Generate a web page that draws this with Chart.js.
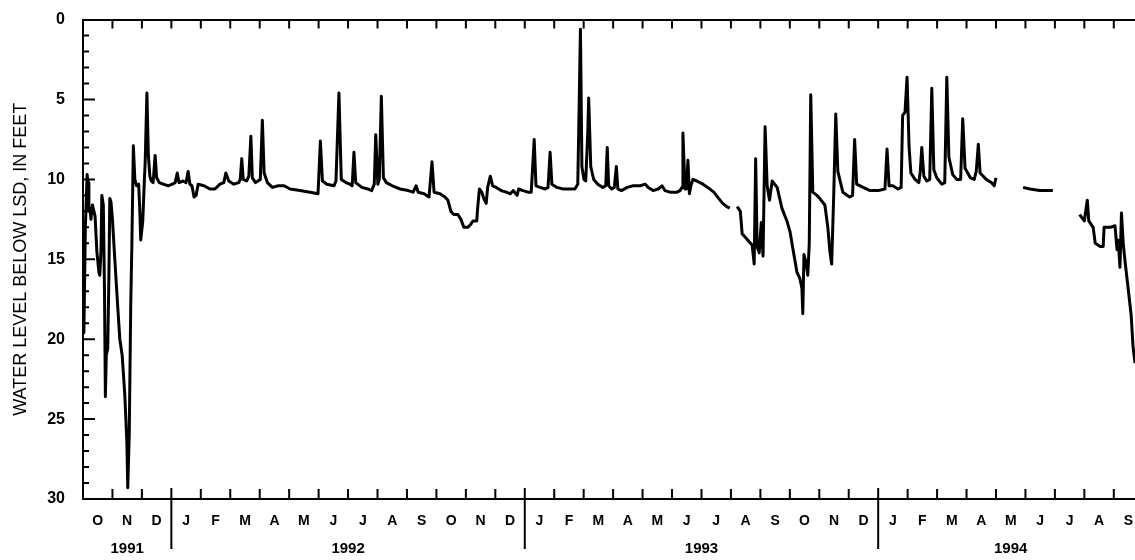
<!DOCTYPE html>
<html>
<head>
<meta charset="utf-8">
<script src="https://cdn.jsdelivr.net/npm/chart.js@4.4.1/dist/chart.umd.min.js"></script>
<style>
  html, body { margin: 0; padding: 0; background: #fff; overflow: hidden; }
</style>
</head>
<body>
<canvas id="hydrograph" width="1135" height="560"></canvas>
<script>
// x = months since 1 Oct 1991, y = water level below land surface (ft); null = no record
const months = [
  0.00, 0.03, 0.08, 0.14, 0.17, 0.20, 0.24, 0.27, 0.32, 0.41, 0.47, 0.54, 0.57, 0.61, 0.64, 0.69,
  0.73, 0.76, 0.79, 0.84, 0.88, 0.91, 0.95, 1.00, 1.08, 1.18, 1.25, 1.33, 1.42, 1.49, 1.52, 1.57,
  1.62, 1.66, 1.71, 1.76, 1.82, 1.89, 1.93, 1.96, 2.03, 2.08, 2.11, 2.17, 2.22, 2.27, 2.32, 2.38,
  2.45, 2.50, 2.59, 2.72, 2.89, 3.03, 3.13, 3.20, 3.26, 3.40, 3.50, 3.57, 3.63, 3.70, 3.77, 3.84,
  3.91, 4.11, 4.31, 4.48, 4.65, 4.78, 4.85, 4.95, 5.12, 5.29, 5.34, 5.39, 5.44, 5.56, 5.63, 5.70,
  5.75, 5.86, 6.02, 6.09, 6.15, 6.26, 6.43, 6.63, 6.83, 7.03, 7.37, 7.71, 7.98, 8.06, 8.13, 8.28,
  8.52, 8.59, 8.69, 8.77, 8.93, 9.06, 9.14, 9.20, 9.26, 9.47, 9.67, 9.80, 9.89, 9.94, 10.01, 10.06,
  10.13, 10.20, 10.30, 10.50, 10.77, 11.04, 11.21, 11.31, 11.38, 11.58, 11.75, 11.85, 11.92, 12.12, 12.29, 12.39,
  12.49, 12.59, 12.73, 12.83, 12.93, 13.07, 13.17, 13.24, 13.37, 13.40, 13.46, 13.54, 13.61, 13.69, 13.74, 13.83,
  13.91, 14.03, 14.20, 14.37, 14.51, 14.61, 14.74, 14.79, 14.94, 15.11, 15.22, 15.32, 15.38, 15.52, 15.69, 15.79,
  15.86, 15.92, 16.09, 16.30, 16.53, 16.70, 16.80, 16.85, 16.89, 16.94, 17.01, 17.07, 17.14, 17.17, 17.24, 17.34,
  17.48, 17.65, 17.75, 17.80, 17.85, 17.95, 18.04, 18.11, 18.16, 18.28, 18.48, 18.68, 18.92, 19.09, 19.19, 19.36,
  19.53, 19.66, 19.76, 19.93, 20.17, 20.27, 20.34, 20.37, 20.44, 20.49, 20.54, 20.59, 20.64, 20.71, 20.84, 21.05,
  21.21, 21.42, 21.59, 21.72, 21.86, 21.96, 22.10, 22.21, 22.32, 22.38, 22.48, 22.62, 22.72, 22.79, 22.84, 22.89,
  22.96, 23.03, 23.09, 23.16, 23.23, 23.31, 23.40, 23.57, 23.73, 23.90, 24.01, 24.11, 24.24, 24.34, 24.41, 24.44,
  24.48, 24.55, 24.61, 24.66, 24.71, 24.78, 24.92, 25.02, 25.19, 25.29, 25.36, 25.42, 25.49, 25.56, 25.63, 25.80,
  26.03, 26.13, 26.20, 26.27, 26.49, 26.73, 27.00, 27.23, 27.30, 27.37, 27.50, 27.67, 27.78, 27.83, 27.91, 27.98,
  28.05, 28.11, 28.25, 28.38, 28.43, 28.48, 28.55, 28.65, 28.75, 28.82, 28.89, 28.99, 29.16, 29.26, 29.33, 29.40,
  29.53, 29.67, 29.80, 29.87, 29.95, 30.13, 30.26, 30.33, 30.40, 30.46, 30.67, 30.84, 30.94, 31.00, 31.45, 31.92,
  32.15, 32.49, 32.93, 33.40, 33.84, 34.00, 34.10, 34.15, 34.30, 34.37, 34.54, 34.64, 34.67, 34.88, 35.04, 35.11,
  35.15, 35.21, 35.26, 35.32, 35.38, 35.48, 35.59, 35.65, 35.72
];
const levels = [
  18.5, 19.6, 13.0, 9.7, 10.2, 12.0, 11.8, 12.5, 11.6, 12.3, 14.5, 15.8, 16.0, 14.5, 11.0, 11.6,
  17.0, 23.6, 21.0, 20.6, 16.0, 11.2, 11.4, 12.5, 15.0, 18.0, 20.0, 21.0, 23.5, 26.5, 29.3, 26.0,
  18.0, 14.0, 7.9, 10.0, 10.4, 10.3, 12.0, 13.8, 12.6, 10.2, 9.0, 4.6, 8.5, 9.8, 10.1, 10.2,
  8.5, 9.9, 10.2, 10.3, 10.4, 10.3, 10.2, 9.6, 10.2, 10.1, 10.2, 9.5, 10.3, 10.4, 11.1, 11.0,
  10.3, 10.4, 10.6, 10.6, 10.3, 10.2, 9.6, 10.1, 10.3, 10.2, 10.0, 8.7, 10.0, 10.1, 9.8, 7.3,
  9.9, 10.2, 10.0, 6.3, 9.6, 10.2, 10.5, 10.4, 10.4, 10.6, 10.7, 10.8, 10.9, 7.6, 10.1, 10.3,
  10.4, 10.1, 4.6, 10.0, 10.2, 10.3, 10.4, 8.3, 10.2, 10.5, 10.6, 10.7, 10.3, 7.2, 10.3, 10.0,
  4.8, 9.9, 10.2, 10.4, 10.6, 10.7, 10.8, 10.4, 10.8, 10.9, 11.1, 8.9, 10.8, 10.9, 11.1, 11.3,
  12.0, 12.2, 12.2, 12.5, 13.0, 13.0, 12.8, 12.6, 12.6, 11.8, 10.6, 10.8, 11.2, 11.5, 10.5, 9.8,
  10.4, 10.5, 10.7, 10.8, 10.9, 10.7, 11.0, 10.6, 10.7, 10.8, 10.8, 7.5, 10.4, 10.5, 10.6, 10.5,
  8.3, 10.3, 10.5, 10.6, 10.6, 10.6, 10.3, 5.0, 0.6, 9.2, 10.0, 10.1, 7.0, 4.9, 9.2, 10.0,
  10.3, 10.5, 10.4, 8.0, 10.4, 10.6, 10.5, 9.2, 10.6, 10.7, 10.5, 10.4, 10.4, 10.3, 10.5, 10.7,
  10.6, 10.4, 10.7, 10.8, 10.8, 10.7, 10.5, 7.1, 10.6, 10.6, 8.8, 10.9, 10.4, 10.0, 10.1, 10.3,
  10.5, 10.8, 11.2, 11.5, 11.7, 11.8, null, 11.7, 12.0, 13.4, 13.6, 13.9, 14.1, 15.3, 8.7, 14.2,
  14.6, 12.7, 14.8, 6.7, 10.4, 11.3, 10.1, 10.5, 11.8, 12.6, 13.3, 14.4, 15.8, 16.2, 16.8, 18.4,
  14.7, 15.2, 16.0, 14.0, 4.7, 10.8, 11.0, 11.2, 11.6, 13.0, 14.5, 15.3, 11.0, 5.9, 9.5, 10.8,
  11.1, 11.0, 7.5, 10.3, 10.5, 10.7, 10.7, 10.6, 8.1, 10.4, 10.4, 10.6, 10.5, 6.0, 5.8, 3.6,
  8.0, 9.6, 10.0, 10.2, 9.5, 8.0, 9.8, 10.1, 10.0, 4.3, 9.4, 9.9, 10.3, 10.2, 3.6, 8.6,
  9.7, 10.0, 10.0, 6.2, 9.3, 9.9, 10.0, 9.5, 7.8, 9.6, 10.0, 10.2, 10.4, 9.9, null, 10.5,
  10.6, 10.7, 10.7, null, 12.2, 12.6, 11.3, 12.6, 13.0, 14.0, 14.2, 14.2, 13.0, 13.0, 12.9, 14.4,
  13.8, 15.5, 12.1, 14.0, 15.1, 16.7, 18.5, 20.4, 21.5
];

const monthLetters = ["O", "N", "D",
  "J", "F", "M", "A", "M", "J", "J", "A", "S", "O", "N", "D",
  "J", "F", "M", "A", "M", "J", "J", "A", "S", "O", "N", "D",
  "J", "F", "M", "A", "M", "J", "J", "A", "S"];
const yearLabels = ["1991", "1992", "1993", "1994"];
const yearStarts = [0, 3, 15, 27, 36]; // month offsets of year boundaries
const depthTicks = [0, 5, 10, 15, 20, 25, 30];
const xMax = 35.72;

const canvas = document.getElementById("hydrograph");

const axisMarks = {
  id: "axisMarks",
  afterDraw(chart) {
    const { ctx, chartArea: a, scales: { x, y } } = chart;
    ctx.save();
    ctx.strokeStyle = "#000";
    ctx.fillStyle = "#000";
    ctx.lineWidth = 2;
    ctx.beginPath();
    // month ticks, top and bottom, pointing inward
    for (let m = 1; m < monthLetters.length; m++) {
      const px = x.getPixelForValue(m);
      ctx.moveTo(px, a.top);
      ctx.lineTo(px, a.top + 9);
      ctx.moveTo(px, a.bottom);
      ctx.lineTo(px, a.bottom - 10);
    }
    // year separators
    yearStarts.slice(1, -1).forEach(m => {
      const px = x.getPixelForValue(m);
      ctx.moveTo(px, a.bottom - 11);
      ctx.lineTo(px, a.bottom + 50);
    });
    // depth ticks every foot
    for (let v = 1; v < 30; v++) {
      const py = y.getPixelForValue(v);
      ctx.moveTo(a.left, py);
      ctx.lineTo(a.left + (v % 5 === 0 ? 12 : 6), py);
    }
    ctx.stroke();

    ctx.textAlign = "center";
    ctx.textBaseline = "middle";
    ctx.font = 'bold 14px "Liberation Sans", Arial, sans-serif';
    monthLetters.forEach((t, i) => {
      ctx.fillText(t, x.getPixelForValue(i + 0.5), a.bottom + 22);
    });
    ctx.font = 'bold 15px "Liberation Sans", Arial, sans-serif';
    yearLabels.forEach((t, i) => {
      const mid = (yearStarts[i] + yearStarts[i + 1]) / 2;
      ctx.fillText(t, x.getPixelForValue(mid), a.bottom + 50);
    });
    ctx.restore();
  }
};

const drawChart = () => {
  new Chart(canvas, {
    type: "line",
    data: {
      datasets: [{
        data: months.map((m, i) => ({ x: m, y: levels[i] })),
        borderColor: "#000",
        borderWidth: 3,
        borderJoinStyle: "round",
        pointRadius: 0,
        tension: 0,
        spanGaps: false
      }]
    },
    options: {
      responsive: false,
      animation: false,
      layout: { padding: { top: 18, right: 0, bottom: 0, left: 0 } },
      plugins: { legend: { display: false }, tooltip: { enabled: false } },
      scales: {
        x: {
          type: "linear", position: "bottom", min: 0, max: xMax,
          ticks: { display: false },
          grid: { display: false },
          border: { color: "#000", width: 2 },
          afterFit: s => { s.height = 61; }
        },
        xTop: {
          type: "linear", position: "top", min: 0, max: xMax,
          ticks: { display: false },
          grid: { display: false },
          border: { color: "#000", width: 2 },
          afterFit: s => { s.height = 0; }
        },
        y: {
          reverse: true, min: 0, max: 30,
          afterBuildTicks: s => { s.ticks = depthTicks.map(v => ({ value: v })); },
          ticks: {
            color: "#000", padding: 10,
            font: { family: '"Liberation Sans", Arial, sans-serif', size: 16, weight: "bold" }
          },
          grid: { display: false },
          border: { color: "#000", width: 2 },
          title: {
            display: true,
            text: "WATER LEVEL BELOW LSD, IN FEET",
            color: "#000",
            padding: { top: 10, bottom: 0 },
            font: { family: '"Liberation Sans", Arial, sans-serif', size: 18 }
          },
          afterFit: s => { s.width = 83; }
        }
      }
    },
    plugins: [axisMarks]
  });
};

window.addEventListener("load", drawChart);
</script>
</body>
</html>
